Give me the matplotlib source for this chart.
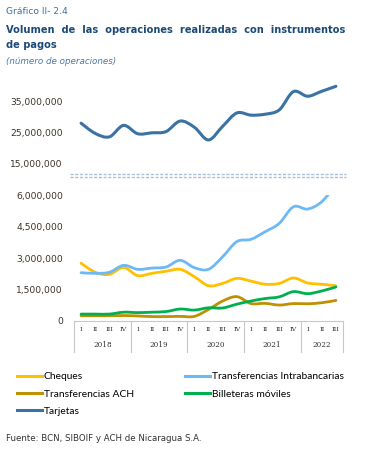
import numpy as np
import matplotlib
matplotlib.use("Agg")
import matplotlib.pyplot as plt
from matplotlib.path import Path
from matplotlib.patches import PathPatch
from matplotlib.lines import Line2D
import matplotlib.transforms as mtransforms

# datos trimestrales 2018T1 - 2022T3
trimestres = ["I", "II", "III", "IV"] * 4 + ["I", "II", "III"]
anios = ["2018", "2019", "2020", "2021", "2022"]

tarjetas = [28.0, 24.7, 23.6, 27.3, 24.6, 24.9, 25.3, 28.7, 26.7, 22.6,
            27.0, 31.3, 30.6, 30.9, 32.3, 38.2, 36.7, 38.3, 39.9]
cheques = [2.75, 2.32, 2.22, 2.55, 2.16, 2.27, 2.37, 2.46, 2.11, 1.68,
           1.79, 2.03, 1.90, 1.75, 1.79, 2.05, 1.81, 1.75, 1.68]
intrabancarias = [2.30, 2.27, 2.32, 2.65, 2.46, 2.52, 2.57, 2.89, 2.54, 2.46,
                  3.06, 3.78, 3.89, 4.25, 4.65, 5.44, 5.33, 5.68, 6.50]
ach = [0.25, 0.25, 0.25, 0.26, 0.24, 0.21, 0.21, 0.22, 0.22, 0.55,
       0.95, 1.16, 0.83, 0.84, 0.76, 0.83, 0.82, 0.87, 0.98]
billeteras = [0.33, 0.33, 0.33, 0.42, 0.40, 0.42, 0.45, 0.57, 0.52, 0.63,
              0.62, 0.80, 0.95, 1.07, 1.15, 1.40, 1.30, 1.43, 1.62]

colores = {
    "Cheques": "#FFC000",
    "Transferencias Intrabancarias": "#6DB9F5",
    "Transferencias ACH": "#BF9000",
    "Billeteras móviles": "#00B050",
    "Tarjetas": "#3A72A3",
}


def curva_suave(ax, x, y, color, lw=2.0):
    """linea suavizada tipo Excel (bezier)"""
    pts = np.column_stack([x, y]).astype(float)
    n = len(pts)
    verts = [pts[0]]
    codes = [Path.MOVETO]
    for i in range(n - 1):
        p0 = pts[i - 1] if i > 0 else pts[i]
        p1 = pts[i]
        p2 = pts[i + 1]
        p3 = pts[i + 2] if i + 2 < n else pts[i + 1]
        c1 = p1 + (p2 - p0) / 6.0
        c2 = p2 - (p3 - p1) / 6.0
        verts += [c1, c2, p2]
        codes += [Path.CURVE4] * 3
    patch = PathPatch(Path(verts, codes), fill=False, edgecolor=color,
                      lw=lw, capstyle="round", joinstyle="round")
    ax.add_patch(patch)
    return patch


W, H = 367, 465
fig = plt.figure(figsize=(W / 100, H / 100), dpi=100)

def fy(py):
    return 1 - py / H

x = np.arange(len(trimestres))
left = 74 / W
width = (343 - 74) / W

# eje superior (tarjetas)
ax_top = fig.add_axes([left, fy(166.6), width, fy(86) - fy(166.6)])
ax_top.set_xlim(-0.5, 18.5)
ax_top.set_ylim(14e6, 40e6)
curva_suave(ax_top, x, np.array(tarjetas) * 1e6, colores["Tarjetas"], lw=2.2).set_clip_on(False)
ax_top.set_yticks([15e6, 25e6, 35e6])
ax_top.set_yticklabels(["15,000,000", "25,000,000", "35,000,000"])
ax_top.set_xticks([])
for s in ax_top.spines.values():
    s.set_visible(False)

# eje inferior
ax = fig.add_axes([left, fy(321), width, fy(195) - fy(321)])
ax.set_xlim(-0.5, 18.5)
ax.set_ylim(0, 6e6)
curva_suave(ax, x, np.array(cheques) * 1e6, colores["Cheques"])
curva_suave(ax, x, np.array(intrabancarias) * 1e6, colores["Transferencias Intrabancarias"])
curva_suave(ax, x, np.array(ach) * 1e6, colores["Transferencias ACH"])
curva_suave(ax, x, np.array(billeteras) * 1e6, colores["Billeteras móviles"])
ax.set_yticks([0, 1.5e6, 3e6, 4.5e6, 6e6])
ax.set_yticklabels(["0", "1,500,000", "3,000,000", "4,500,000", "6,000,000"])
for s in ["top", "right", "left"]:
    ax.spines[s].set_visible(False)
ax.spines["bottom"].set_color("#c8c8c8")
ax.spines["bottom"].set_linewidth(0.8)
ax.set_xticks(x)
ax.set_xticklabels(trimestres, fontfamily="DejaVu Serif", fontsize=4.6, color="#333333")
ax.tick_params(axis="x", length=0, pad=4)

for a in (ax, ax_top):
    a.tick_params(axis="y", length=0, pad=8, labelsize=6.6, labelcolor="#3a3226")

trans = mtransforms.blended_transform_factory(ax.transData, ax.transAxes)
sep_len = (352 - 321) / 126
for xs in [-0.5, 3.5, 7.5, 11.5, 15.5, 18.5]:
    ax.add_line(Line2D([xs, xs], [0, -sep_len], transform=trans, color="#c8c8c8",
                       lw=0.8, clip_on=False))
for lab, xc in zip(anios, [1.5, 5.5, 9.5, 13.5, 17]):
    ax.text(xc, -(345 - 321) / 126, lab, transform=trans, ha="center", va="center",
            fontfamily="DejaVu Serif", fontsize=5.2, color="#333333")

# lineas de corte del eje
for py in (174.5, 177.2):
    fig.add_artist(Line2D([70 / W, 346 / W], [fy(py), fy(py)], color="#a9c1d9",
                          lw=1.0, linestyle=(0, (2.2, 1.2))))

# leyenda
orden = ["Cheques", "Transferencias ACH", "Tarjetas",
         "Transferencias Intrabancarias", "Billeteras móviles"]
handles = [Line2D([], [], color=colores[k], lw=2.2) for k in orden]
fig.legend(handles, orden, loc="upper left", bbox_to_anchor=(17 / W, fy(372)),
           ncol=2, frameon=False, prop={"family": "Lato", "size": 7.4},
           handlelength=2.4, handletextpad=0.2, columnspacing=5.0,
           labelspacing=0.8, borderaxespad=0, borderpad=0)

# textos
fig.text(6 / W, fy(12), "Gráfico II- 2.4", fontfamily="DejaVu Sans", fontsize=6.6,
         color="#3d6f9c", va="center")
fig.text(6 / W, fy(30), "Volumen  de  las  operaciones  realizadas  con  instrumentos",
         fontfamily="DejaVu Sans", fontweight="bold", fontsize=7.15, color="#1c4a78",
         va="center")
fig.text(6 / W, fy(45), "de pagos", fontfamily="DejaVu Sans", fontweight="bold",
         fontsize=7.15, color="#1c4a78", va="center")
fig.text(6 / W, fy(62), "(número de operaciones)", fontfamily="DejaVu Sans",
         fontstyle="italic", fontsize=6.3, color="#4a7aa8", va="center")
fig.text(6 / W, fy(438), "Fuente: BCN, SIBOIF y ACH de Nicaragua S.A.",
         fontfamily="DejaVu Sans", fontsize=6.2, color="#333333", va="center")

fig.savefig("out.png", dpi=100)
